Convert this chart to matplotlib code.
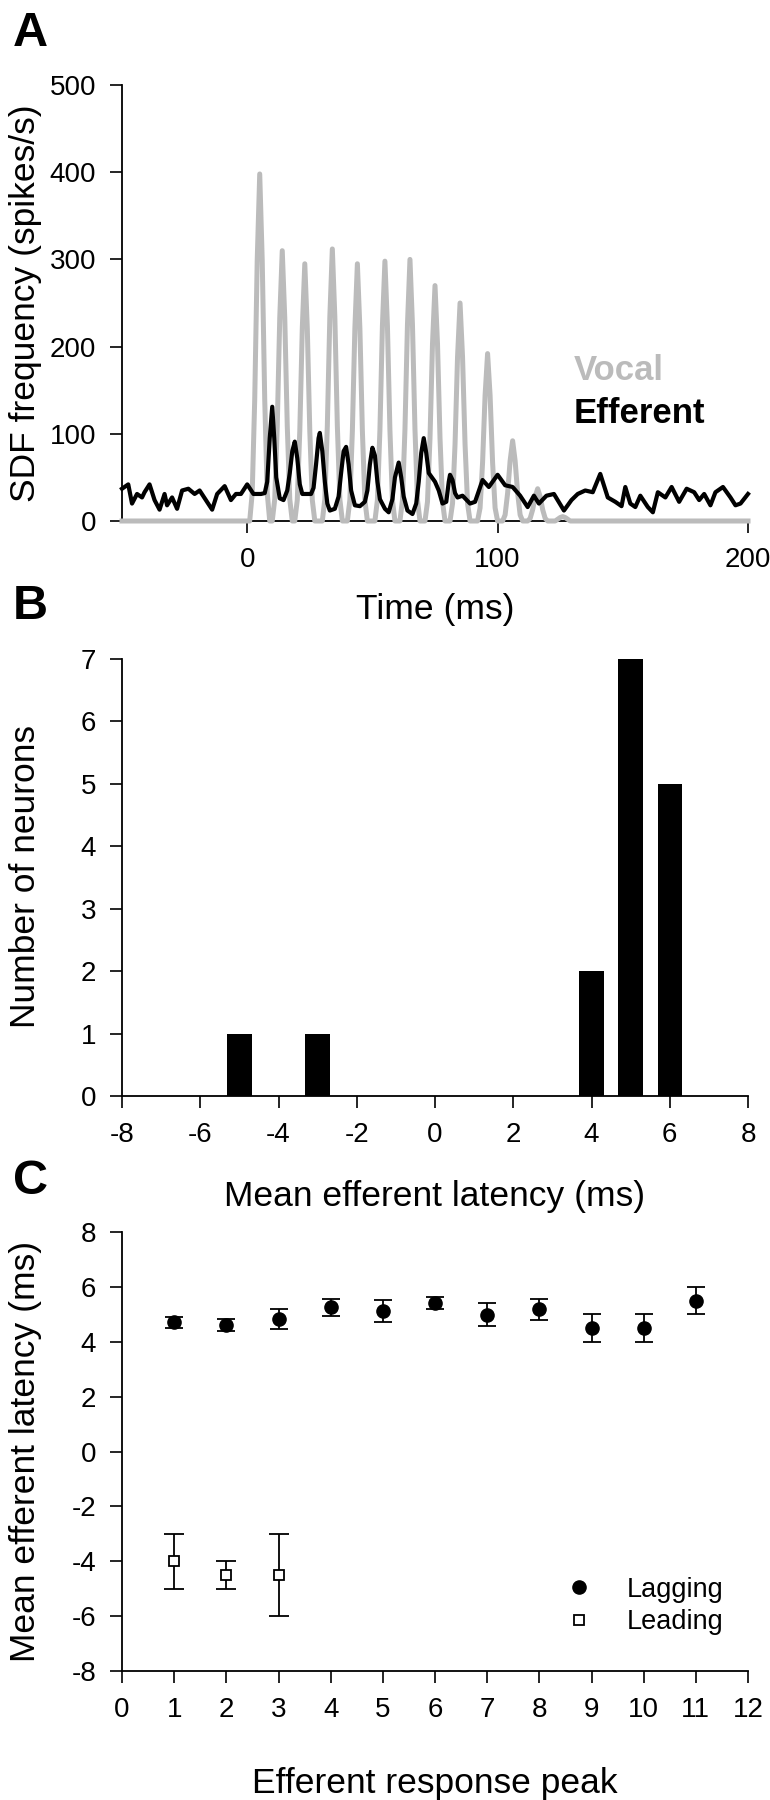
import numpy as np
import matplotlib
matplotlib.use("Agg")
import matplotlib.pyplot as plt

plt.rcParams['font.family'] = ['Liberation Sans', 'DejaVu Sans']
plt.rcParams['axes.unicode_minus'] = False

W, H = 770, 1800

# ---- panel A: spike density functions ----
vocal_time = np.concatenate(([-50], np.arange(0, 131), [200]))
vocal_rate = [0,
              0, 0, 32, 139, 299, 398, 299, 139, 32, 0,
              0, 25, 109, 233, 310, 233, 109, 25, 0, 0,
              24, 103, 221, 295, 221, 103, 24, 0, 0, 0,
              0, 25, 109, 234, 312, 234, 109, 25, 0, 0,
              0, 24, 103, 221, 295, 221, 103, 24, 0, 0,
              0, 0, 24, 104, 224, 298, 224, 104, 24, 0,
              0, 0, 24, 105, 225, 300, 225, 105, 24, 0,
              0, 0, 22, 95, 203, 270, 203, 95, 22, 0,
              0, 0, 20, 88, 188, 250, 188, 88, 20, 0,
              0, 0, 0, 15, 67, 144, 192, 144, 67, 15,
              0, 0, 0, 7, 32, 69, 92, 69, 32, 7,
              0, 0, 0, 3, 13, 28, 37, 28, 13, 3,
              0, 0, 0, 0, 2, 4, 5, 4, 2, 0,
              0,
              0]

efferent_time = [-50, -47.5, -46, -44, -42, -41, -39, -37, -35, -33,
                 -32, -30, -28, -26, -23.5, -21, -19, -16.5, -14, -12,
                 -9, -6.5, -4.5, -2.5, 0, 2.5, 5.5, 7, 8, 9,
                 10, 10.8, 11.6, 13, 14.5, 16, 17, 18, 19, 20,
                 21, 22, 25.5, 26.5, 27.5, 28.5, 29, 30, 31, 32,
                 33, 35, 36.5, 37.5, 38.5, 39.5, 40.5, 41.5, 43, 45,
                 47, 48, 49, 50, 51, 52, 53, 55, 56.5, 58,
                 59, 60.5, 61.5, 62.5, 64, 66, 67.5, 68.5, 69.5, 70.5,
                 71.5, 72.5, 73.5, 75, 76.5, 78, 79.5, 80.5, 81, 82,
                 83, 84, 86, 89, 91, 94, 96.5, 100, 103, 106,
                 109, 112, 114.5, 116.5, 119.5, 122.5, 126.5, 129.5, 132, 135,
                 138, 141, 144, 147, 149.5, 151, 153, 155, 157, 160,
                 162, 164, 167, 169.5, 172.5, 175.5, 178.5, 180.5, 182.5, 185,
                 187, 190, 193, 195, 197, 200]
efferent_rate = [37, 42, 20, 31, 27, 33, 42, 24, 13, 31,
                 18, 27, 14, 35, 37, 31, 35, 24, 13, 31,
                 40, 24, 31, 31, 42, 31, 31, 32, 45, 95,
                 131, 95, 50, 26, 24, 35, 55, 80, 91, 72,
                 42, 31, 31, 38, 65, 95, 101, 80, 45, 20,
                 12, 14, 28, 55, 80, 85, 65, 35, 18, 17,
                 22, 35, 65, 84, 75, 45, 25, 14, 10, 25,
                 50, 67, 50, 28, 12, 8, 20, 45, 78, 95,
                 78, 55, 51, 45, 35, 20, 22, 45, 53, 47,
                 32, 27, 29, 20, 22, 47, 39, 53, 41, 39,
                 29, 16, 29, 20, 29, 31, 12, 24, 31, 35,
                 33, 54, 27, 22, 17, 39, 20, 16, 29, 16,
                 10, 33, 27, 39, 22, 37, 33, 24, 31, 18,
                 33, 39, 27, 18, 20, 31]

# ---- panel B: latency histogram ----
latency_bins = [-5, -3, 4, 5, 6]
neuron_counts = [1, 1, 2, 7, 5]

# ---- panel C: latency per peak ----
lag_peak = [1, 2, 3, 4, 5, 6, 7, 8, 9, 10, 11]
lag_mean = [4.71, 4.61, 4.82, 5.26, 5.11, 5.42, 4.99, 5.18, 4.5, 4.5, 5.5]
lag_err = [0.2, 0.22, 0.37, 0.31, 0.4, 0.21, 0.41, 0.39, 0.5, 0.5, 0.5]
lead_peak = [1, 2, 3]
lead_mean = [-4.0, -4.5, -4.5]
lead_err = [1.0, 0.5, 1.5]

TICK_FS = 20
LABEL_FS = 25.5


def px_axes(left, top, right, bottom):
    return [left / W, 1 - bottom / H, (right - left) / W, (bottom - top) / H]


def style(ax):
    for s in ['top', 'right']:
        ax.spines[s].set_visible(False)
    for s in ['left', 'bottom']:
        ax.spines[s].set_linewidth(1.3)
    ax.tick_params(direction='out', length=8.5, width=1.2, labelsize=TICK_FS)
    ax.tick_params(axis='x', pad=10)
    ax.tick_params(axis='y', pad=10)


def xlabel(txt, y_base):
    fig.text(435 / W, 1 - y_base / H, txt, fontsize=LABEL_FS, ha='center', va='baseline')


def ylabel(txt, y_mid):
    fig.text(35 / W, 1 - y_mid / H, txt, fontsize=LABEL_FS, rotation=90,
             rotation_mode='anchor', ha='center', va='baseline')


def panel(letter, y_base):
    fig.text(13 / W, 1 - y_base / H, letter, fontsize=35, fontweight='bold',
             ha='left', va='baseline')


fig = plt.figure(figsize=(W / 100, H / 100), dpi=100)

# A
axA = fig.add_axes(px_axes(122, 85, 748, 521))
axA.plot(vocal_time, vocal_rate, color='#bbbbbb', lw=3.6, zorder=3,
         clip_on=False, solid_joinstyle='round')
axA.plot(efferent_time, efferent_rate, color='black', lw=3.0, zorder=4,
         clip_on=False, solid_joinstyle='round')
axA.set_xlim(-50, 200)
axA.set_ylim(0, 500)
axA.set_xticks([0, 100, 200])
axA.set_yticks([0, 100, 200, 300, 400, 500])
style(axA)
axA.text(130.5, 173, 'Vocal', color='#bbbbbb', fontsize=25, fontweight='bold',
         ha='left', va='center')
axA.text(130.5, 123, 'Efferent', color='black', fontsize=25, fontweight='bold',
         ha='left', va='center')
panel('A', 46)
ylabel('SDF frequency (spikes/s)', 303)
xlabel('Time (ms)', 619)

# B
axB = fig.add_axes(px_axes(122, 659, 748, 1096))
axB.bar(latency_bins, neuron_counts, width=0.62, color='black')
axB.set_xlim(-8, 8)
axB.set_ylim(0, 7)
axB.set_xticks(range(-8, 9, 2))
axB.set_yticks(range(0, 8))
style(axB)
panel('B', 619)
ylabel('Number of neurons', 877)
xlabel('Mean efferent latency (ms)', 1206)

# C
axC = fig.add_axes(px_axes(122, 1232, 748, 1671))
axC.errorbar(lag_peak, lag_mean, yerr=lag_err, fmt='o', color='black', ms=9.5,
             capsize=6.5, elinewidth=1.3, capthick=1.3, label='Lagging')
axC.errorbar(lead_peak, lead_mean, yerr=lead_err, fmt='s', color='black',
             mfc='white', mec='black', mew=1.3, ms=7.5, capsize=7,
             elinewidth=1.3, capthick=1.3, label='Leading')
axC.set_xlim(0, 12)
axC.set_ylim(-8, 8)
axC.set_xticks(range(0, 13))
axC.set_yticks(range(-8, 9, 2))
style(axC)
handles, labels = axC.get_legend_handles_labels()
handles = [h[0] for h in handles]
axC.legend(handles, labels, loc='upper left', bbox_to_anchor=(0.709, 0.215),
           frameon=False, fontsize=19.5, handlelength=1.0, handletextpad=1.25,
           labelspacing=0.25, borderpad=0, borderaxespad=0)
panel('C', 1194)
ylabel('Mean efferent latency (ms)', 1451)
xlabel('Efferent response peak', 1793)

fig.savefig('out.png', dpi=100)
